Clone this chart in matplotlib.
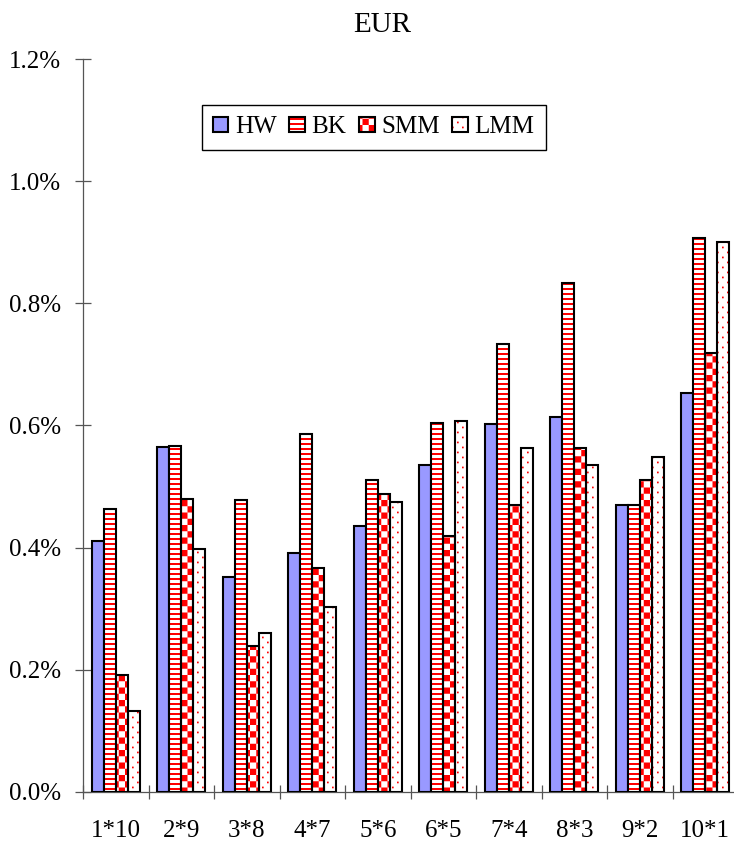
import numpy as np
import matplotlib
matplotlib.use("Agg")
import matplotlib.pyplot as plt
import matplotlib.hatch as mhatch
from matplotlib.path import Path
from matplotlib.ticker import FixedLocator, FuncFormatter

# ---- data (values in percent) ----
categories = ["1*10", "2*9", "3*8", "4*7", "5*6", "6*5", "7*4", "8*3", "9*2", "10*1"]
hw = [0.410, 0.564, 0.352, 0.391, 0.435, 0.535, 0.602, 0.614, 0.469, 0.654]
bk = [0.464, 0.566, 0.478, 0.586, 0.510, 0.604, 0.733, 0.834, 0.469, 0.907]
smm = [0.192, 0.480, 0.238, 0.366, 0.488, 0.419, 0.469, 0.563, 0.510, 0.718]
lmm = [0.133, 0.397, 0.260, 0.302, 0.475, 0.608, 0.563, 0.535, 0.548, 0.900]
y_ticks = [0.0, 0.2, 0.4, 0.6, 0.8, 1.0, 1.2]
title = "EUR"


# ---- fill patterns: stripes ('-'), checkerboard ('x'), dots ('.') ----
def _rects(vertices, codes, rects):
    k = 0
    for (x0, y0, w, h) in rects:
        vertices[k:k + 5] = [(x0, y0), (x0 + w, y0), (x0 + w, y0 + h),
                             (x0, y0 + h), (x0, y0)]
        codes[k] = Path.MOVETO
        codes[k + 1:k + 4] = Path.LINETO
        codes[k + 4] = Path.CLOSEPOLY
        k += 5


class Stripes(mhatch.HatchPatternBase):
    def __init__(self, hatch, density):
        self.rects = []
        if "-" in hatch:
            n = 20
            self.rects = [(0.0, i / n, 1.0, 0.02) for i in range(n)]
        self.num_vertices = 5 * len(self.rects)

    def set_vertices_and_codes(self, vertices, codes):
        _rects(vertices, codes, self.rects)


class Checker(mhatch.HatchPatternBase):
    def __init__(self, hatch, density):
        self.rects = []
        if "x" in hatch:
            n = 16
            self.rects = [(i / n, j / n, 1 / n, 1 / n)
                          for i in range(n) for j in range(n) if (i + j) % 2 == 0]
        self.num_vertices = 5 * len(self.rects)

    def set_vertices_and_codes(self, vertices, codes):
        _rects(vertices, codes, self.rects)


class Dots(mhatch.HatchPatternBase):
    def __init__(self, hatch, density):
        self.rects = []
        if "." in hatch:
            cols, rows, s = 10, 20, 0.017
            for r in range(rows):
                off = 0.05 * (r % 2)
                for c in range(cols):
                    self.rects.append((c / cols + off + 0.02, r / rows + 0.017, s, s))
        self.num_vertices = 5 * len(self.rects)

    def set_vertices_and_codes(self, vertices, codes):
        _rects(vertices, codes, self.rects)


mhatch._hatch_types = [Stripes, Checker, Dots]

plt.rcParams["font.family"] = ["Liberation Serif", "DejaVu Serif"]
plt.rcParams["hatch.linewidth"] = 0.0

fig = plt.figure(figsize=(7.34, 8.41), dpi=100)
ax = fig.add_axes([83 / 734, 49.3 / 841, 655 / 734, 732.4 / 841])

x = np.arange(len(categories))
w = 0.183
offsets = np.array([-1.5, -0.5, 0.5, 1.5]) * w
edge_lw = 1.5

hw_bars = ax.bar(x + offsets[0], hw, w, color="#9999ff", edgecolor="black",
                 linewidth=edge_lw, zorder=3)

series = [(bk, "-", offsets[1]), (smm, "x", offsets[2]), (lmm, ".", offsets[3])]
handles = [hw_bars[0]]
for vals, hatch, off in series:
    fill = ax.bar(x + off, vals, w, color="white", edgecolor="red", linewidth=0,
                  hatch=hatch, zorder=3)
    outline = ax.bar(x + off, vals, w, fill=False, edgecolor="black",
                     linewidth=edge_lw, zorder=4)
    handles.append((fill[0], outline[0]))

ax.set_xlim(-0.5, len(categories) - 0.5)
ax.set_ylim(0, 1.2)

for side in ("top", "right"):
    ax.spines[side].set_visible(False)
for side in ("left", "bottom"):
    ax.spines[side].set_color("#555555")
    ax.spines[side].set_linewidth(0.9)

ax.yaxis.set_major_locator(FixedLocator(y_ticks))
ax.yaxis.set_major_formatter(FuncFormatter(lambda v, p: f"{v:.1f}%"))
ax.tick_params(axis="y", direction="inout", length=12.2, width=0.9,
               color="#555555", pad=10, labelsize=18)

ax.set_xticks(x)
ax.set_xticklabels(categories)
ax.set_xticks(np.arange(len(categories)) - 0.5, minor=True)
ax.tick_params(axis="x", which="major", length=0, pad=20.5, labelsize=18)
ax.tick_params(axis="x", which="minor", direction="inout", length=10,
               width=0.9, color="#555555")

fig.text(381.7 / 734, 1 - 31.7 / 841, title, ha="center", va="baseline",
         fontsize=21)

leg = fig.legend(handles, ["HW", "BK", "SMM", "LMM"], loc="upper left",
                 bbox_to_anchor=(201.7 / 734, 1 - 105 / 841),
                 bbox_transform=fig.transFigure, borderaxespad=0, ncol=4,
                 fontsize=18, handlelength=0.62, handleheight=0.6,
                 handletextpad=0.27, columnspacing=0.5, borderpad=0.45,
                 fancybox=False, framealpha=1, edgecolor="black")
leg.get_frame().set_linewidth(1.0)

fig.savefig("out.png", dpi=100)
